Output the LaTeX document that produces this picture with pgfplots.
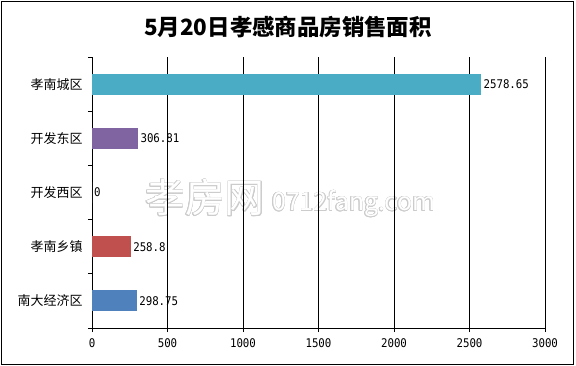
\documentclass[border=0pt]{standalone}
\usepackage{pgfplots}
\pgfplotsset{compat=1.18}
\usepackage{fontspec}
\usepackage{contour}
\setmainfont{Noto Sans CJK SC}
\newfontfamily\cjk{Noto Sans CJK SC}
\newfontfamily\numfont[FakeStretch=0.9]{DejaVu Sans Mono}
\definecolor{cTeal}{HTML}{4BACC6}
\definecolor{cPurple}{HTML}{8064A2}
\definecolor{cRed}{HTML}{C0504D}
\definecolor{cBlue}{HTML}{4F81BD}
\begin{document}
\begin{tikzpicture}
\useasboundingbox (-92bp,-38bp) rectangle (484bp,328bp);
\draw[black, line width=1bp] (-90bp,-36bp) rectangle (481bp,326bp);
\node[font=\bfseries\fontsize{22.5}{22.5}\selectfont] at (196bp,301bp) {5月20日孝感商品房销售面积};
\contourlength{0.5bp}
\node[anchor=west, inner sep=0pt] at (53bp,130bp) {\fontsize{40}{40}\selectfont\contour{gray!40}{\textcolor{white}{孝房网}}};
\node[anchor=west, inner sep=0pt] at (180bp,124bp) {\fontsize{25}{25}\selectfont\contour{gray!40}{\textcolor{white}{0712fang.com}}};
\begin{axis}[
  scale only axis, width=453bp, height=271bp,
  xmin=0, xmax=3000, ymin=-0.5, ymax=4.5,
  xbar, bar width=21bp, bar shift=0pt,
  axis x line*=bottom, axis y line*=left,
  axis line style={black, line width=0.8bp},
  xtick={0,500,...,3000},
  xmajorgrids, grid style={black, line width=0.8bp},
  tick align=outside, major tick length=4bp,
  tick style={black, line width=0.8bp},
  ytick={-0.5,0.5,...,4.5}, yticklabels={},
  extra y ticks={0,1,2,3,4},
  extra y tick labels={南大经济区,孝南乡镇,开发西区,开发东区,孝南城区},
  extra y tick style={major tick length=0pt, yticklabel style={font=\cjk\fontsize{13}{13}\selectfont, anchor=east, xshift=-6bp}},
  /pgf/number format/assume math mode=true,
  /pgf/number format/1000 sep={},
  xticklabel style={font=\numfont\fontsize{12}{12}\selectfont, yshift=-3bp},
  point meta=explicit symbolic,
  nodes near coords,
  nodes near coords style={font=\numfont\fontsize{12}{12}\selectfont, anchor=west, inner sep=2bp, text=black},
]
\addplot[fill=cBlue, draw=none] coordinates {(298.75,0) [298.75]};
\addplot[fill=cRed, draw=none] coordinates {(258.8,1) [258.8]};
\addplot[fill=cPurple, draw=none] coordinates {(0,2) [0]};
\addplot[fill=cPurple, draw=none] coordinates {(306.81,3) [306.81]};
\addplot[fill=cTeal, draw=none] coordinates {(2578.65,4) [2578.65]};
\end{axis}
\end{tikzpicture}
\end{document}
